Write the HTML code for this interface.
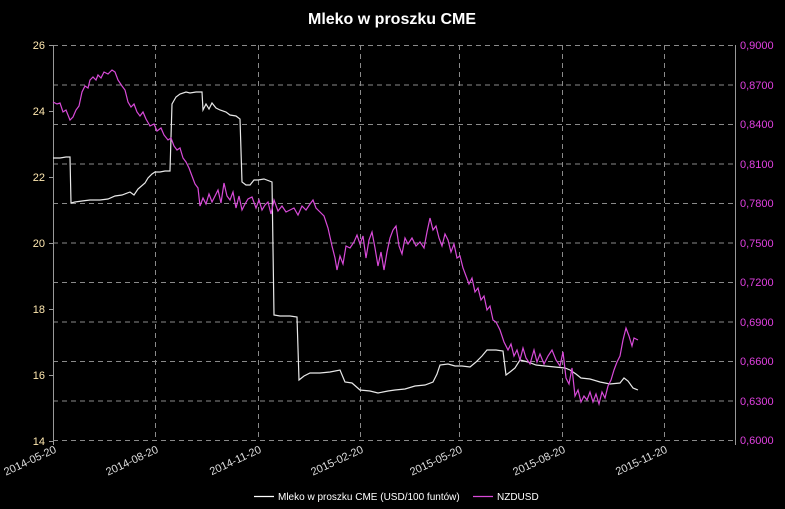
<!DOCTYPE html>
<html><head><meta charset="utf-8"><style>
html,body{margin:0;padding:0;background:#000;}
svg{display:block;font-family:"Liberation Sans",sans-serif;}
</style></head><body>
<svg width="785" height="509" viewBox="0 0 785 509">
<rect width="785" height="509" fill="#000"/>
<text x="392" y="24" fill="#fff" font-size="16" font-weight="bold" text-anchor="middle">Mleko w proszku CME</text>
<g stroke="#8a8a8a" stroke-width="1" stroke-dasharray="5,4" fill="none">
<line x1="53" y1="45.5" x2="735" y2="45.5"/>
<line x1="53" y1="85" x2="735" y2="85"/>
<line x1="53" y1="124.5" x2="735" y2="124.5"/>
<line x1="53" y1="164" x2="735" y2="164"/>
<line x1="53" y1="203.5" x2="735" y2="203.5"/>
<line x1="53" y1="243" x2="735" y2="243"/>
<line x1="53" y1="282.5" x2="735" y2="282.5"/>
<line x1="53" y1="322" x2="735" y2="322"/>
<line x1="53" y1="361.5" x2="735" y2="361.5"/>
<line x1="53" y1="401" x2="735" y2="401"/>
<line x1="53" y1="440.5" x2="735" y2="440.5"/>
<line x1="155.5" y1="45" x2="155.5" y2="441"/>
<line x1="258.5" y1="45" x2="258.5" y2="441"/>
<line x1="360.5" y1="45" x2="360.5" y2="441"/>
<line x1="459.5" y1="45" x2="459.5" y2="441"/>
<line x1="562.5" y1="45" x2="562.5" y2="441"/>
<line x1="664.5" y1="45" x2="664.5" y2="441"/>
</g>
<g stroke="#999" stroke-width="1">
<line x1="53.5" y1="45" x2="53.5" y2="445"/>
<line x1="735.5" y1="45" x2="735.5" y2="445"/>
<line x1="49" y1="45.5" x2="53" y2="45.5"/><line x1="49" y1="111.5" x2="53" y2="111.5"/><line x1="49" y1="177.5" x2="53" y2="177.5"/><line x1="49" y1="243.5" x2="53" y2="243.5"/><line x1="49" y1="309.5" x2="53" y2="309.5"/><line x1="49" y1="375.5" x2="53" y2="375.5"/><line x1="49" y1="441.5" x2="53" y2="441.5"/>
</g>
<g fill="#ffe8b0" font-size="11" text-anchor="end">
<text x="45" y="49">26</text><text x="45" y="115">24</text><text x="45" y="181">22</text><text x="45" y="247">20</text><text x="45" y="313">18</text><text x="45" y="379">16</text><text x="45" y="445">14</text>
</g>
<g fill="#e040e0" font-size="11">
<text x="740" y="49">0,9000</text><text x="740" y="89">0,8700</text><text x="740" y="128">0,8400</text><text x="740" y="168">0,8100</text><text x="740" y="207">0,7800</text><text x="740" y="247">0,7500</text><text x="740" y="286">0,7200</text><text x="740" y="326">0,6900</text><text x="740" y="365">0,6600</text><text x="740" y="405">0,6300</text><text x="740" y="444">0,6000</text>
</g>
<g fill="#ddd" font-size="11" text-anchor="end">
<text transform="translate(57,452) rotate(-25)">2014-05-20</text>
<text transform="translate(159,452) rotate(-25)">2014-08-20</text>
<text transform="translate(262,452) rotate(-25)">2014-11-20</text>
<text transform="translate(364,452) rotate(-25)">2015-02-20</text>
<text transform="translate(463,452) rotate(-25)">2015-05-20</text>
<text transform="translate(566,452) rotate(-25)">2015-08-20</text>
<text transform="translate(668,452) rotate(-25)">2015-11-20</text>
</g>
<polyline fill="none" stroke="#e8e8e8" stroke-width="1.2" points="53,158 60,158 66,157 70,157 71,203 75,202 82,201 90,200 100,200 108,199 115,196 122,195 130,192 134,195 138,189 145,183 148,178 152,174 155,172 160,172 165,171 170,171 172,104 176,97 180,94 186,92 190,93 196,92 202,92 203,110 206,104 209,109 212,103 216,108 220,110 226,112 230,115 236,116 240,119 242,182 246,185 250,185 254,180 258,180 264,179 272,182 274,315 280,316 290,316 297,317 299,380 304,376 310,373 320,373 330,372 340,370 345,382 352,383 360,390 370,391 378,393 388,391 395,390 405,389 415,386 425,385 433,382 437,374 440,365 448,364 455,366 462,366 470,367 476,362 482,356 487,350 496,350 503,351 506,375 510,372 515,368 520,360 528,362 536,365 545,366 555,367 565,368 570,370 576,374 581,378 590,379 600,382 610,384 620,383 624,378 628,381 633,388 638,390"/>
<polyline fill="none" stroke="#d84ad8" stroke-width="1.2" points="53,102 57,104 60,103 63,112 66,110 70,120 73,117 76,110 79,106 82,92 85,86 88,88 90,80 93,77 96,80 98,75 101,78 104,72 108,74 112,70 115,72 118,80 122,86 125,90 128,102 131,107 134,104 137,112 140,116 143,112 146,119 150,126 154,124 157,131 161,128 164,135 168,140 171,138 174,146 177,150 180,148 183,158 186,162 189,168 192,176 195,184 198,188 200,206 203,198 206,204 209,194 212,202 215,196 218,190 221,203 224,183 227,196 230,200 233,192 236,208 239,196 242,210 245,204 248,199 252,197 256,208 259,200 262,210 265,205 268,202 271,214 274,200 278,211 282,206 286,212 290,210 294,208 298,215 302,206 306,210 310,204 313,200 316,208 320,212 324,216 328,228 332,246 335,258 337,270 340,256 343,264 346,246 350,248 354,242 357,235 360,244 363,236 366,258 369,240 372,232 375,248 378,266 381,252 384,270 387,252 390,238 393,230 396,226 399,246 402,254 405,238 408,244 412,238 416,246 420,242 424,248 427,232 430,218 433,230 436,226 439,238 442,246 445,234 448,240 451,252 454,244 457,258 460,256 463,268 466,276 469,284 472,278 475,292 478,288 481,300 484,296 487,310 490,306 493,320 496,322 500,330 504,342 508,350 511,344 514,356 517,350 520,360 523,348 526,358 530,364 534,350 537,362 540,354 544,364 548,356 552,350 556,360 560,366 563,352 566,378 569,384 572,368 575,396 578,390 581,402 584,396 587,400 590,392 593,402 596,394 599,404 602,392 605,398 608,386 611,380 614,370 617,362 620,356 623,340 626,328 629,336 632,346 634,338 638,340"/>
<line x1="254" y1="496.5" x2="274" y2="496.5" stroke="#fff" stroke-width="1.2"/>
<text x="278" y="500" fill="#fff" font-size="10">Mleko w proszku CME (USD/100 funtów)</text>
<line x1="473" y1="496.5" x2="493" y2="496.5" stroke="#d84ad8" stroke-width="1.2"/>
<text x="497" y="500" fill="#fff" font-size="10">NZDUSD</text>
</svg>
</body></html>
